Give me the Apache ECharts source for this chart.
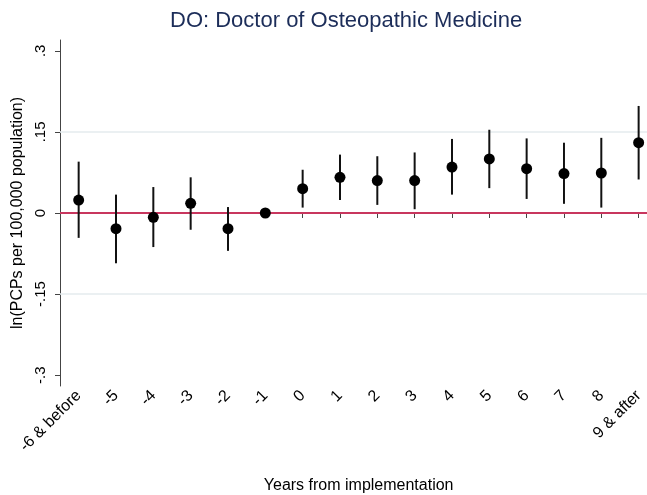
<!DOCTYPE html>
<html>
<head>
<meta charset="utf-8">
<script src="https://cdn.jsdelivr.net/npm/echarts@6/dist/echarts.min.js"></script>
<style>html,body{margin:0;padding:0;background:#fff}#c{width:647px;height:495px}</style>
</head>
<body>
<div id="c"></div>
<script>
const categories = ['-6 & before','-5','-4','-3','-2','-1','0','1','2','3','4','5','6','7','8','9 & after'];
const estimates = [0.024, -0.029, -0.008, 0.018, -0.029, 0, 0.045, 0.066, 0.060, 0.060, 0.085, 0.100, 0.082, 0.073, 0.074, 0.130];
const ciLow =  [-0.046, -0.093, -0.063, -0.031, -0.070, null, 0.010, 0.024, 0.015, 0.007, 0.034, 0.046, 0.026, 0.017, 0.010, 0.062];
const ciHigh = [0.095, 0.034, 0.048, 0.066, 0.011, null, 0.080, 0.108, 0.105, 0.112, 0.137, 0.154, 0.138, 0.130, 0.139, 0.198];
const yTicks = [-0.3, -0.15, 0, 0.15, 0.3];
const gridValues = [-0.15, 0.15];
const refValue = 0;

const FONT = '"Liberation Sans", Arial, sans-serif';
const chart = echarts.init(document.getElementById('c'), null, {renderer: 'canvas'});

function fmt(v) {
  if (Math.abs(v) < 1e-9) return '0';
  let s = String(+v.toFixed(4));
  return s.replace(/^(-?)0\./, '$1.');
}

const ciData = categories.map((c, i) => [i, ciLow[i], ciHigh[i]]);

const option = {
  animation: false,
  backgroundColor: '#ffffff',
  title: {
    text: 'DO: Doctor of Osteopathic Medicine',
    left: 165,
    top: 5,
    textStyle: {fontFamily: FONT, fontSize: 22, fontWeight: 'normal', color: '#1c2d59'}
  },
  grid: {left: 60, right: -10.3, top: 40, bottom: 109, outerBoundsMode: 'none', containLabel: false},
  xAxis: {
    type: 'category',
    data: categories,
    boundaryGap: true,
    name: 'Years from implementation',
    nameLocation: 'middle',
    nameGap: 92,
    nameTextStyle: {fontFamily: FONT, fontSize: 16, color: '#000'},
    axisLine: {show: true, lineStyle: {color: '#444', width: 1}},
    axisTick: {show: true, alignWithLabel: true, length: 5, lineStyle: {color: '#444'}},
    axisLabel: {rotate: 45, margin: 7, fontFamily: FONT, fontSize: 16, color: '#000', interval: 0},
    splitLine: {show: false}
  },
  yAxis: {
    type: 'value',
    min: -0.32,
    max: 0.32,
    name: 'ln(PCPs per 100,000 population)',
    nameLocation: 'middle',
    nameRotate: 90,
    nameGap: 27,
    nameTextStyle: {fontFamily: FONT, fontSize: 16, color: '#000'},
    axisLine: {show: true, lineStyle: {color: '#444', width: 1}},
    axisTick: {show: true, length: 5, customValues: yTicks, lineStyle: {color: '#444'}},
    axisLabel: {rotate: 90, margin: 12, fontFamily: FONT, fontSize: 15, color: '#000',
      customValues: yTicks, formatter: fmt},
    splitLine: {show: false}
  },
  series: [
    {
      type: 'custom',
      z: 2,
      data: ciData,
      renderItem: function (params, api) {
        const lo = api.value(1), hi = api.value(2);
        if (lo == null || hi == null || isNaN(lo) || isNaN(hi)) return null;
        const p1 = api.coord([api.value(0), lo]);
        const p2 = api.coord([api.value(0), hi]);
        return {type: 'line', shape: {x1: p1[0], y1: p1[1], x2: p2[0], y2: p2[1]},
          style: {stroke: '#111', lineWidth: 2}};
      },
      markLine: {
        silent: true, symbol: 'none', z: 1,
        label: {show: false},
        data: gridValues.map(v => ({yAxis: v, lineStyle: {color: '#e4ebee', width: 1.5, type: 'solid'}}))
          .concat([{yAxis: refValue, lineStyle: {color: '#c8365e', width: 2, type: 'solid'}}])
      }
    },
    {
      type: 'scatter',
      z: 3,
      symbol: 'circle',
      symbolSize: 11,
      itemStyle: {color: '#000', opacity: 1},
      data: estimates.map((v, i) => [i, v])
    }
  ]
};
chart.setOption(option);
</script>
</body>
</html>
